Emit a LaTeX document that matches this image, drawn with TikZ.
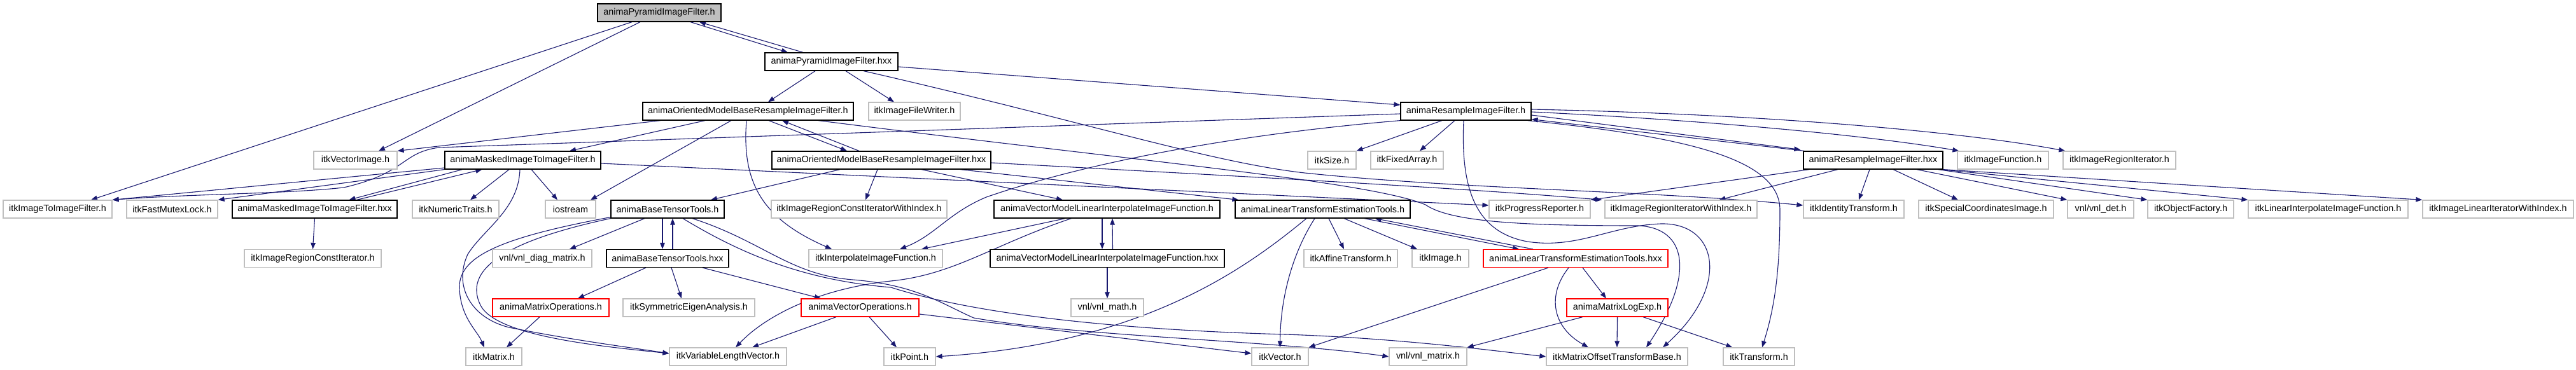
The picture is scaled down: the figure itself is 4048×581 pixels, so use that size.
\documentclass[tikz,border=0pt]{standalone}
\usepackage{fontspec}
\newfontfamily\graphfont{Liberation Sans}
\usetikzlibrary{arrows.meta}
\definecolor{edgeblue}{HTML}{191970}
\definecolor{extgray}{HTML}{BFBFBF}
\definecolor{rootgray}{HTML}{BFBFBF}
\definecolor{truncred}{HTML}{FF0000}
\pgfdeclarelayer{edges}
\pgfsetlayers{edges,main}

\begin{document}
\begin{tikzpicture}[x=1pt, y=-1pt,
	file/.style={rectangle, minimum height=28pt, inner sep=0pt, line width=1.2pt, fill=white, font=\graphfont\fontsize{14.4}{16}\selectfont},
	docfile/.style={file, draw=black},
	extfile/.style={file, draw=extgray},
	truncfile/.style={file, draw=truncred},
	rootfile/.style={file, draw=black, fill=rootgray},
	dep/.style={draw=edgeblue, line width=1.1pt, -{Triangle[length=10pt,width=7.5pt]}}]
	\useasboundingbox (0,0) rectangle (4048,581);

	\node[rootfile, minimum width=194pt] (pyrh) at (1036,20) {animaPyramidImageFilter.h};
	\node[docfile, minimum width=209pt] (pyrhxx) at (1306.5,97) {animaPyramidImageFilter.hxx};
	\node[docfile, minimum width=331pt] (ombh) at (1175.5,175) {animaOrientedModelBaseResampleImageFilter.h};
	\node[extfile, minimum width=144pt] (writer) at (1437,175) {itkImageFileWriter.h};
	\node[docfile, minimum width=205pt] (resh) at (2303.5,175) {animaResampleImageFilter.h};
	\node[extfile, minimum width=131pt] (vecimg) at (558.5,252) {itkVectorImage.h};
	\node[docfile, minimum width=245pt] (maskh) at (821.5,252) {animaMaskedImageToImageFilter.h};
	\node[docfile, minimum width=344pt] (ombhxx) at (1385,252) {animaOrientedModelBaseResampleImageFilter.hxx};
	\node[extfile, minimum width=76pt] (size) at (2093,252) {itkSize.h};
	\node[extfile, minimum width=114pt] (fixarr) at (2211,252) {itkFixedArray.h};
	\node[docfile, minimum width=219pt] (reshxx) at (2943.5,252) {animaResampleImageFilter.hxx};
	\node[extfile, minimum width=143pt] (imgfun) at (3147.5,252) {itkImageFunction.h};
	\node[extfile, minimum width=177pt] (regit) at (3330.5,252) {itkImageRegionIterator.h};

	\node[extfile, minimum width=171pt] (itoi) at (90.5,329) {itkImageToImageFilter.h};
	\node[extfile, minimum width=143pt] (mutex) at (270.5,329) {itkFastMutexLock.h};
	\node[docfile, minimum width=259pt] (maskhxx) at (494.5,329) {animaMaskedImageToImageFilter.hxx};
	\node[extfile, minimum width=136pt] (numtr) at (716,329) {itkNumericTraits.h};
	\node[extfile, minimum width=79pt] (iostr) at (896.5,329) {iostream};
	\node[docfile, minimum width=178pt] (btth) at (1049,329) {animaBaseTensorTools.h};
	\node[extfile, minimum width=276pt] (rciwi) at (1350,329) {itkImageRegionConstIteratorWithIndex.h};
	\node[docfile, minimum width=355pt] (vmh) at (1739.5,329) {animaVectorModelLinearInterpolateImageFunction.h};
	\node[docfile, minimum width=275pt] (lteh) at (2078.5,329) {animaLinearTransformEstimationTools.h};
	\node[extfile, minimum width=159pt] (progr) at (2419.5,329) {itkProgressReporter.h};
	\node[extfile, minimum width=239pt] (riwi) at (2641.5,329) {itkImageRegionIteratorWithIndex.h};
	\node[extfile, minimum width=158pt] (ident) at (2913,329) {itkIdentityTransform.h};
	\node[extfile, minimum width=212pt] (spcoord) at (3121,329) {itkSpecialCoordinatesImage.h};
	\node[extfile, minimum width=104pt] (det) at (3301,329) {vnl/vnl\_det.h};
	\node[extfile, minimum width=135pt] (objfac) at (3442.5,329) {itkObjectFactory.h};
	\node[extfile, minimum width=251pt] (lininterp) at (3658.5,329) {itkLinearInterpolateImageFunction.h};
	\node[extfile, minimum width=237pt] (linit) at (3925.5,329) {itkImageLinearIteratorWithIndex.h};

	\node[extfile, minimum width=215pt] (rci) at (491.5,406.5) {itkImageRegionConstIterator.h};
	\node[extfile, minimum width=156pt] (diagm) at (852,406.5) {vnl/vnl\_diag\_matrix.h};
	\node[docfile, minimum width=192pt] (btthxx) at (1049,406.5) {animaBaseTensorTools.hxx};
	\node[extfile, minimum width=210pt] (interp) at (1376,406.5) {itkInterpolateImageFunction.h};
	\node[docfile, minimum width=368pt] (vmhxx) at (1740,406.5) {animaVectorModelLinearInterpolateImageFunction.hxx};
	\node[extfile, minimum width=147pt] (affine) at (2122.5,406.5) {itkAffineTransform.h};
	\node[extfile, minimum width=89pt] (itkimg) at (2263.5,406.5) {itkImage.h};
	\node[truncfile, minimum width=290pt] (ltehxx) at (2476,406.5) {animaLinearTransformEstimationTools.hxx};

	\node[truncfile, minimum width=183pt] (matops) at (865.5,484) {animaMatrixOperations.h};
	\node[extfile, minimum width=207pt] (symeig) at (1082.5,484) {itkSymmetricEigenAnalysis.h};
	\node[truncfile, minimum width=185pt] (vecops) at (1351.5,484) {animaVectorOperations.h};
	\node[extfile, minimum width=114pt] (vnlmath) at (1740,484) {vnl/vnl\_math.h};
	\node[truncfile, minimum width=159pt] (logexp) at (2541.5,484) {animaMatrixLogExp.h};

	\node[extfile, minimum width=88pt] (itkmat) at (776,561) {itkMatrix.h};
	\node[extfile, minimum width=184pt] (varvec) at (1144,561) {itkVariableLengthVector.h};
	\node[extfile, minimum width=81pt] (itkpt) at (1429.5,561) {itkPoint.h};
	\node[extfile, minimum width=89pt] (itkvec) at (2011.5,561) {itkVector.h};
	\node[extfile, minimum width=122pt] (vnlmat) at (2244,561) {vnl/vnl\_matrix.h};
	\node[extfile, minimum width=222pt] (motb) at (2541,561) {itkMatrixOffsetTransformBase.h};
	\node[extfile, minimum width=112pt] (transf) at (2764,561) {itkTransform.h};

	\begin{pgfonlayer}{edges}
	\draw[dep] ([xshift=49pt]pyrh.south) -- ([xshift=-68.5pt]pyrhxx.north);
	\draw[dep] ([xshift=-44.5pt]pyrhxx.north) -- ([xshift=63pt]pyrh.south);
	\draw[dep] ([xshift=-30pt]pyrh.south) -- ([xshift=36.5pt]vecimg.north);
	\draw[dep] ([xshift=-43pt]pyrh.south) -- ([xshift=52.5pt]itoi.north);

	\draw[dep] ([xshift=-25.5pt]pyrhxx.south) -- ([xshift=31.5pt]ombh.north);
	\draw[dep] ([xshift=22.5pt]pyrhxx.south) -- ([xshift=-32pt]writer.north);
	\draw[dep] ([yshift=-8pt]pyrhxx.east) -- ([yshift=10pt]resh.west);
	\draw[dep] ([xshift=50.5pt]pyrhxx.south) .. controls (1700,190) and (1900,255) .. (2050,272) .. controls (2300,298) and (2600,300) .. ([yshift=6pt]ident.west);

	\draw[dep] ([xshift=-137.5pt]ombh.south) -- (vecimg.north east);
	\draw[dep] ([xshift=-67.5pt]ombh.south) -- ([xshift=73.5pt]maskh.north);
	\draw[dep] ([xshift=-26.5pt]ombh.south) -- ([xshift=31.5pt]iostr.north);
	\draw[dep] ([xshift=-2.5pt]ombh.south) .. controls (1165,290) and (1200,345) .. ([xshift=-69pt]interp.north);
	\draw[dep] ([xshift=32.5pt]ombh.south) -- ([xshift=-54pt]ombhxx.north);
	\draw[dep] ([xshift=-35pt]ombhxx.north) -- ([xshift=53.5pt]ombh.south);
	\draw[dep] ([xshift=110.5pt]ombh.south) .. controls (1800,255) and (2150,285) .. (2240,322) .. controls (2280,350) and (2400,355) .. (2574,355) .. controls (2650,358) and (2665,430) .. ([xshift=46pt]motb.north);

	\draw[dep] ([yshift=-4pt]resh.west) -- (690,232) .. controls (630,240) and (640,272) .. (540,295) .. controls (450,305) and (300,305) .. (itoi.north east);
	\draw[dep] (resh.south west) .. controls (1900,215) and (1680,265) .. (1550,310) .. controls (1490,335) and (1470,370) .. ([xshift=38pt]interp.north);
	\draw[dep] ([xshift=-37.5pt]resh.south) -- (size.north east);
	\draw[dep] ([xshift=-17.5pt]resh.south) -- ([xshift=20pt]fixarr.north);
	\draw[dep] ([xshift=-3.5pt]resh.south) .. controls (2295,300) and (2320,365) .. (2400,380) .. controls (2480,392) and (2530,355) .. (2610,352) .. controls (2700,350) and (2720,450) .. ([xshift=72pt]motb.north);
	\draw[dep] ([yshift=-6pt]resh.east) -- ([xshift=-4pt,yshift=2pt]reshxx.north west);
	\draw[dep] ([xshift=2pt]reshxx.north west) -- ([yshift=2pt]resh.south east);
	\draw[dep] ([yshift=-1pt]resh.east) .. controls (2700,190) and (2950,215) .. ([xshift=3pt]imgfun.north west);
	\draw[dep] ([yshift=3pt]resh.east) .. controls (2800,180) and (3100,210) .. ([xshift=4pt]regit.north west);
	\draw[dep] ([xshift=-6pt]resh.south east) .. controls (2650,215) and (2797,250) .. (2797,330) .. controls (2797,420) and (2790,480) .. ([xshift=5pt]transf.north);

	\draw[dep] ([xshift=-100.5pt]reshxx.south) -- (progr.north east);
	\draw[dep] ([xshift=-55.5pt]reshxx.south) -- ([xshift=60pt]riwi.north);
	\draw[dep] ([xshift=-5.5pt]reshxx.south) -- ([xshift=8pt]ident.north);
	\draw[dep] ([xshift=31.5pt]reshxx.south) -- ([xshift=-44pt]spcoord.north);
	\draw[dep] ([xshift=68.5pt]reshxx.south) -- (det.north west);
	\draw[dep] ([xshift=-8pt]reshxx.south east) -- (objfac.north west);
	\draw[dep] ([xshift=-4pt]reshxx.south east) -- (lininterp.north west);
	\draw[dep] (reshxx.south east) -- (linit.north west);

	\draw[dep] ([xshift=-95pt]maskh.south) -- ([xshift=54pt]maskhxx.north);
	\draw[dep] ([xshift=66pt]maskhxx.north) -- ([xshift=-64pt]maskh.south);
	\draw[dep] ([yshift=-12pt]maskh.west) -- (itoi.north east);
	\draw[dep] (maskh.south west) -- (mutex.north east);
	\draw[dep] ([xshift=-21.5pt]maskh.south) -- ([xshift=23pt]numtr.north);
	\draw[dep] ([xshift=13.5pt]maskh.south) -- ([xshift=-20.5pt]iostr.north);
	\draw[dep] ([xshift=-4.5pt]maskh.south) .. controls (815,330) and (760,360) .. (735,400) .. controls (712,450) and (740,500) .. (800,515) .. controls (900,535) and (980,545) .. ([yshift=5pt]varvec.west);
	\draw[dep] ([yshift=-5pt]maskh.east) -- ([yshift=6pt]progr.west);
	\draw[dep] (maskhxx.south) -- (rci.north);

	\draw[dep] ([xshift=-8pt]btth.south) -- ([xshift=-8pt]btthxx.north);
	\draw[dep] ([xshift=8pt]btthxx.north) -- ([xshift=8pt]btth.south);
	\draw[dep] ([xshift=-36pt]btth.south) -- ([xshift=43pt]diagm.north);
	\draw[dep] ([yshift=2pt]btth.south west) .. controls (780,375) and (720,405) .. (722,454) .. controls (724,500) and (750,520) .. ([xshift=-15pt]itkmat.north);
	\draw[dep] (btth.south west) .. controls (790,380) and (728,425) .. (755,480) .. controls (780,530) and (950,545) .. ([yshift=5pt]varvec.west);
	\draw[dep] ([xshift=24pt]btth.south) .. controls (1150,390) and (1250,440) .. (1400,452) .. controls (1550,500) and (1800,520) .. (2020,526) .. controls (2200,532) and (2350,552) .. (motb.west);
	\draw[dep] ([xshift=39pt]btth.south) .. controls (1200,380) and (1240,432) .. (1340,440) .. controls (1440,448) and (1480,478) .. (1530,500) .. controls (1700,530) and (2000,535) .. (vnlmat.west);

	\draw[dep] ([xshift=-34pt]btthxx.south) -- ([xshift=42.5pt]matops.north);
	\draw[dep] ([xshift=6pt]btthxx.south) -- ([xshift=-11.5pt]symeig.north);
	\draw[dep] ([xshift=55pt]btthxx.south) -- ([xshift=-61.5pt]vecops.north);
	\draw[dep] ([xshift=-17.5pt]matops.south) -- ([xshift=20pt]itkmat.north);
	\draw[dep] ([xshift=-37.5pt]vecops.south) -- ([xshift=38pt]varvec.north);
	\draw[dep] ([xshift=14.5pt]vecops.south) -- ([xshift=-20.5pt]itkpt.north);
	\draw[dep] ([yshift=-10pt]vecops.east) -- ([yshift=5pt]itkvec.west);

	\draw[dep] ([xshift=-7.5pt]vmh.south) -- ([xshift=-8pt]vmhxx.north);
	\draw[dep] ([xshift=8.5pt]vmhxx.north) -- ([xshift=8.5pt]vmh.south);
	\draw[dep] ([xshift=-65.5pt]vmh.south) -- ([xshift=72pt]interp.north);
	\draw[dep] ([xshift=-56pt]vmh.south) .. controls (1560,385) and (1500,432) .. (1400,442) .. controls (1280,455) and (1200,500) .. ([xshift=12pt]varvec.north);
	\draw[dep] (vmhxx.south) -- (vnlmath.north);

	\draw[dep] ([xshift=-65pt]ombhxx.south) -- ([xshift=68pt]btth.north);
	\draw[dep] ([xshift=-6pt]ombhxx.south) -- ([xshift=10pt]rciwi.north);
	\draw[dep] ([xshift=63pt]ombhxx.south) -- ([xshift=-69.5pt]vmh.north);
	\draw[dep] ([xshift=124pt]ombhxx.south) -- ([xshift=6pt]lteh.north west);
	\draw[dep] ([yshift=-4pt]ombhxx.east) .. controls (2000,280) and (2300,296) .. ([xshift=-4pt]riwi.north west);

	\draw[dep] ([xshift=65.5pt]lteh.south) -- ([xshift=-89pt]ltehxx.north);
	\draw[dep] ([xshift=-67pt]ltehxx.north) -- ([xshift=82pt]lteh.south);
	\draw[dep] ([xshift=9.5pt]lteh.south) -- ([xshift=-10.5pt]affine.north);
	\draw[dep] ([xshift=33.5pt]lteh.south) -- ([xshift=-36.5pt]itkimg.north);
	\draw[dep] ([xshift=-12.5pt]lteh.south) .. controls (2030,400) and (2012,470) .. (itkvec.north);
	\draw[dep] ([xshift=-25.5pt]lteh.south) .. controls (1960,420) and (1800,540) .. (itkpt.east);

	\draw[dep] ([xshift=11pt]ltehxx.south) -- ([xshift=-17.5pt]logexp.north);
	\draw[dep] ([xshift=-11pt]ltehxx.south) .. controls (2430,465) and (2440,515) .. ([xshift=-45pt]motb.north);
	\draw[dep] ([xshift=-43pt]ltehxx.south) -- (itkvec.north east);
	\draw[dep] (logexp.south) -- (motb.north);
	\draw[dep] ([xshift=-54.5pt]logexp.south) -- (vnlmat.north east);
	\draw[dep] ([xshift=40.5pt]logexp.south) -- ([xshift=15pt]transf.north west);
	\end{pgfonlayer}
\end{tikzpicture}
\end{document}
